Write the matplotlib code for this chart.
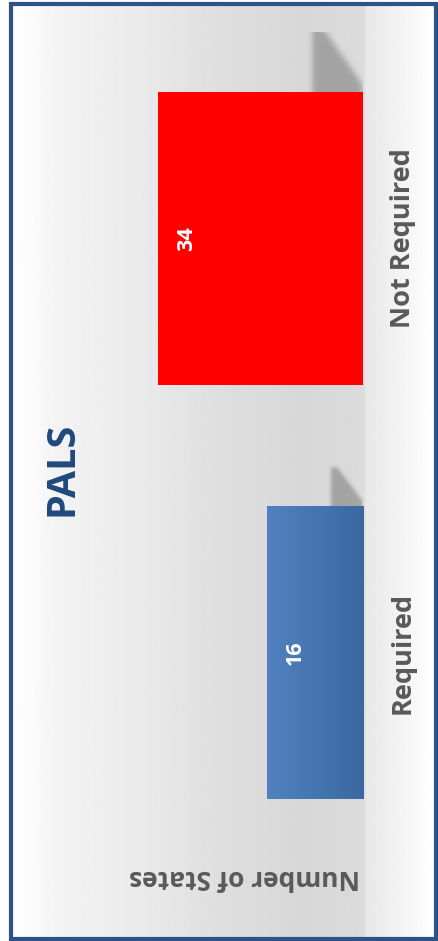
import numpy as np
import matplotlib.pyplot as plt
from matplotlib.patches import Rectangle
from matplotlib.path import Path
from matplotlib.colors import LinearSegmentedColormap

categories = ['Required', 'Not Required']
values = [16, 34]
title = 'PALS'
axis_label = 'Number of States'

W, H = 438, 941
fig = plt.figure(figsize=(W / 100, H / 100), dpi=100)
fig.patch.set_facecolor('white')

# background gradient (whole panel), runs left to right
bg = fig.add_axes([10 / W, 2 / H, 427 / W, 936 / H])
bg.set_axis_off()
xs = np.linspace(0, 1, 600)
stops_x = [0.0, 0.035, 0.12, 0.30, 0.50, 0.68, 0.80, 0.83, 0.835, 0.92, 0.985, 1.0]
stops_v = [0.995, 0.99, 0.95, 0.92, 0.87, 0.845, 0.855, 0.865, 0.91, 0.955, 0.995, 1.0]
grad = np.interp(xs, stops_x, stops_v)
bg.imshow(np.tile(grad, (2, 1)), cmap='gray', vmin=0, vmax=1, aspect='auto',
          extent=(0, 1, 0, 1))
bg.set_xlim(0, 1)
bg.set_ylim(0, 1)

# frame
fig.patches.append(Rectangle((11 / W, 2.5 / H), 425 / W, 935 / H, transform=fig.transFigure,
                             fill=False, edgecolor='#2c5287', linewidth=3, zorder=10))

# main axes: bars grow leftwards from the baseline at x=363px
px_unit = 6.03
x_max = 40
ax_left = 363 - x_max * px_unit
ax = fig.add_axes([ax_left / W, 81.5 / H, x_max * px_unit / W, 828 / H])
ax.set_facecolor('none')
ax.set_axis_off()

ypos = np.arange(len(categories))
bar_h = 0.71


def blur(a, s):
    k = np.exp(-0.5 * (np.arange(-3 * s, 3 * s + 1) / s) ** 2)
    k /= k.sum()
    a = np.apply_along_axis(lambda r: np.convolve(r, k, mode='same'), 0, a)
    return np.apply_along_axis(lambda r: np.convolve(r, k, mode='same'), 1, a)


# soft shadows behind the bars
for y, v in zip(ypos, values):
    top = y + bar_h / 2
    d = 2.6 + 0.17 * v
    h = 0.035 + 0.0035 * v
    x0, x1 = -0.3 * d, 1.4 * d
    y0, y1 = top - 0.2 * h, top + 1.3 * h
    gx, gy = np.meshgrid(np.linspace(x0, x1, 160), np.linspace(y0, y1, 160))
    shape = Path([(0, top - h), (d, top - h), (d, top + h), (d * 0.8, top + h),
                  (0, top + h * 0.1)])
    mask = shape.contains_points(np.c_[gx.ravel(), gy.ravel()]).reshape(gx.shape)
    alpha = blur(mask.astype(float), 5) * 0.42
    rgba = np.zeros(gx.shape + (4,))
    rgba[..., :3] = 0.35
    rgba[..., 3] = alpha
    ax.imshow(rgba, origin='lower', aspect='auto', extent=(x0, x1, y0, y1),
              interpolation='bilinear', zorder=1)

bars = ax.barh(ypos, values, height=bar_h, color=['#4a7ab5', '#ff0000'], zorder=2)

# gradient fill on the blue bar
blue = LinearSegmentedColormap.from_list('b', ['#5182bf', '#3a69a1'])
req = bars[0]
im = ax.imshow(np.tile(np.linspace(0, 1, 200), (2, 1)), cmap=blue, aspect='auto',
               extent=(values[0], 0, ypos[0] - bar_h / 2, ypos[0] + bar_h / 2), zorder=3)
im.set_clip_path(req)
ax.set_xlim(x_max, 0)
ax.set_ylim(-0.5, 1.5)

# value labels near the end of each bar
for y, v in zip(ypos, values):
    ax.text(v - 29 / px_unit, y, str(v), rotation=90, ha='center', va='center',
            color='white', fontsize=15.5, fontweight='bold', family='Open Sans', zorder=5)

# category labels on the right
for y, c in zip(ypos, categories):
    ax.text(-40 / px_unit, y, c, rotation=90, ha='center', va='center',
            color='#595959', fontsize=19.5, fontweight='bold', family='Open Sans',
            clip_on=False)

fig.text(62 / W, 1 - 469 / H, title, rotation=90, ha='center', va='center',
         color='#1f497d', fontsize=28.5, fontweight='bold', family='Open Sans')
fig.text(245 / W, 1 - 877 / H, axis_label, rotation=180, ha='center', va='center',
         color='#595959', fontsize=19, fontweight='bold', family='Open Sans')

fig.savefig('out.png', dpi=100)
